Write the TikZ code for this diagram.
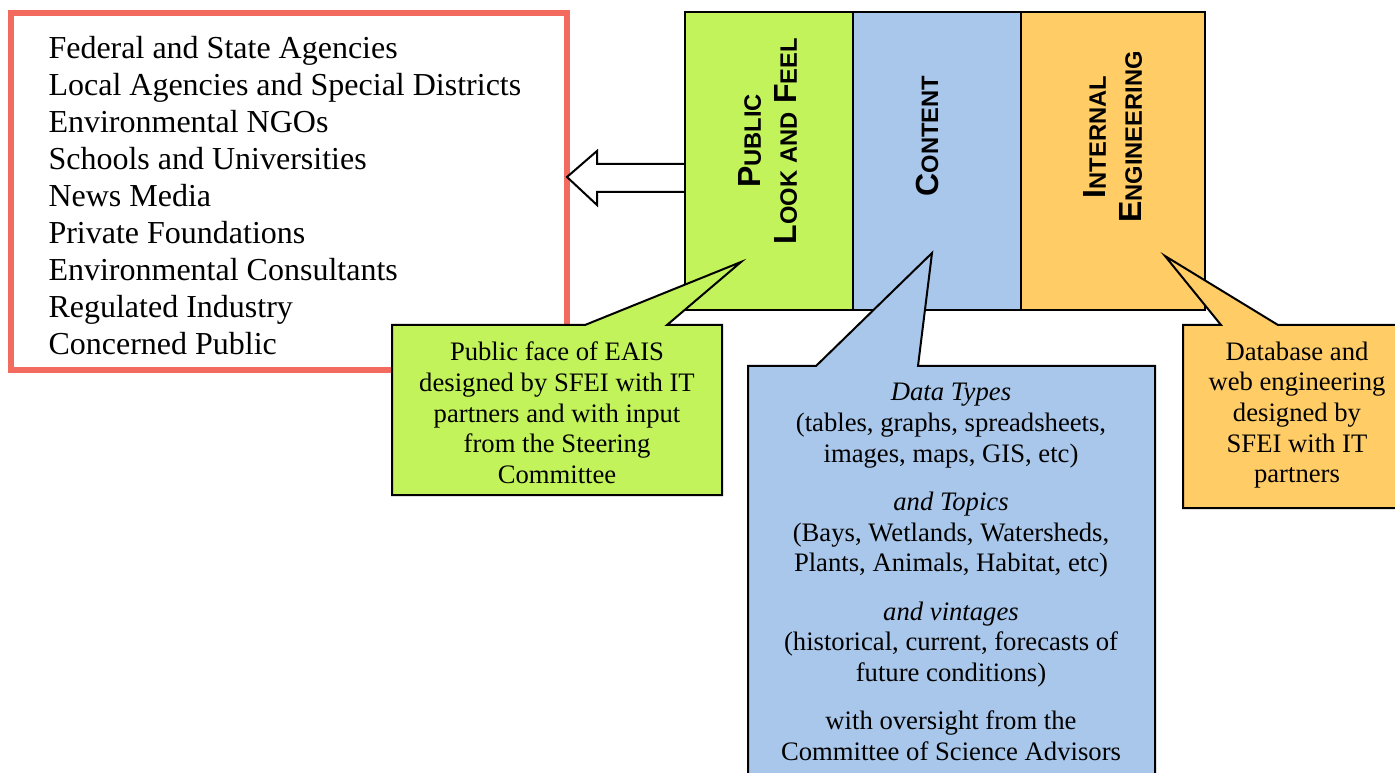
\documentclass[tikz,border=0pt]{standalone}
\usepackage{fontspec}
\setmainfont{Liberation Serif}
\newfontfamily\headfont{Liberation Sans}
\usetikzlibrary{positioning}
\definecolor{lookgreen}{RGB}{195,243,91}
\definecolor{contentblue}{RGB}{169,199,234}
\definecolor{engorange}{RGB}{255,204,102}
\definecolor{userred}{RGB}{242,107,94}
\newcommand{\smallcapsword}[2]{{\fontsize{12}{13.5}\selectfont #1}{\fontsize{8.9}{13.5}\selectfont #2}}
\tikzset{
  column/.style={draw=black, line width=0.75pt},
  callout/.style={draw=black, line width=0.75pt, line join=miter},
  heading/.style={font=\headfont\bfseries\fontsize{12}{13.5}\selectfont, rotate=90, align=center},
  note/.style={font=\fontsize{10}{11.5}\selectfont, align=center, inner sep=0pt},
  user/.style={font=\fontsize{12}{13.8}\selectfont, anchor=base west, inner sep=0pt}
}

\begin{document}
\begin{tikzpicture}[x=0.375pt, y=-0.375pt]
	\useasboundingbox (0,0) rectangle (1395,773);
	\clip (0,0) rectangle (1395,773);

	% audiences %
	\draw[userred, line width=2pt] (11,13) rectangle (567,370);
	\foreach \i/\who in {1/Federal and State Agencies,
		2/Local Agencies and Special Districts,
		3/Environmental NGOs,
		4/Schools and Universities,
		5/News Media,
		6/Private Foundations,
		7/Environmental Consultants,
		8/Regulated Industry,
		9/Concerned Public}
		\node[user] (user\i) at (48,{59+37*(\i-1)}) {\who};

	% arrow to audiences %
	\coordinate (usertip) at (567,177);
	\draw[line width=0.75pt, fill=white] (685,164) -- (597,164) -- (597,151) -- (usertip) -- (597,205) -- (597,192) -- (685,192);

	% columns %
	\draw[column, fill=lookgreen] (685,12) rectangle (853,310);
	\draw[column, fill=contentblue] (853,12) rectangle (1021,310);
	\draw[column, fill=engorange] (1021,12) rectangle (1205,310);

	\node[heading] (look) at (768,141) {\smallcapsword{P}{UBLIC}\\\smallcapsword{L}{OOK AND} \smallcapsword{F}{EEL}};
	\node[heading] (content) at (927,136) {\smallcapsword{C}{ONTENT}};
	\node[heading] (engineering) at (1113,137) {\smallcapsword{I}{NTERNAL}\\\smallcapsword{E}{NGINEERING}};

	% callouts %
	\coordinate (looktip) at (741,262);
	\draw[callout, fill=lookgreen] (392,325) -- (585,325) -- (looktip) -- (667,325) -- (722,325) -- (722,495) -- (392,495) -- cycle;
	\node[note] (looknote) at (557,413) {Public face of EAIS\\designed by SFEI with IT\\partners and with input\\from the Steering\\Committee};

	\coordinate (contenttip) at (932,253);
	\draw[callout, fill=contentblue] (748,366) -- (816,366) -- (contenttip) -- (918,366) -- (1155,366) -- (1155,790) -- (748,790) -- cycle;
	\node[note] (contentnote) at (951,572) {\textit{Data Types}\\(tables, graphs, spreadsheets,\\images, maps, GIS, etc)\\[6.6pt]
		\textit{and Topics}\\(Bays, Wetlands, Watersheds,\\Plants, Animals, Habitat, etc)\\[6.6pt]
		\textit{and vintages}\\(historical, current, forecasts of\\future conditions)\\[6.6pt]
		with oversight from the\\Committee of Science Advisors};

	\coordinate (engtip) at (1165,256);
	\draw[callout, fill=engorange] (1183,325) -- (1221,325) -- (engtip) -- (1278,325) -- (1411,325) -- (1411,508) -- (1183,508) -- cycle;
	\node[note] (engnote) at (1297,415) {Database and\\web engineering\\designed by\\SFEI with IT\\partners};

\end{tikzpicture}
\end{document}
